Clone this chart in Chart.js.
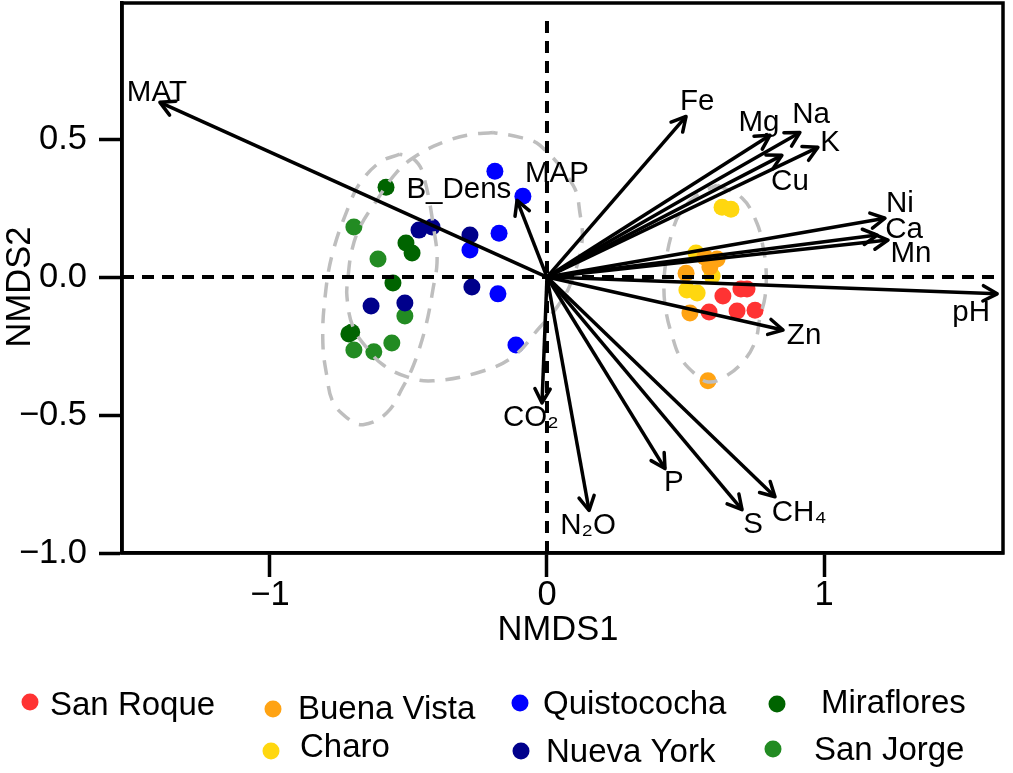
<!DOCTYPE html>
<html>
<head>
<meta charset="utf-8">
<title>NMDS</title>
<script src="https://cdn.jsdelivr.net/npm/chart.js@4/dist/chart.umd.min.js"></script>
<style>
  body { margin: 0; background: #fff; }
  canvas { display: block; }
</style>
</head>
<body>
<canvas id="chart" width="1013" height="773"></canvas>
<script>
const xTicks = [-1, 0, 1];
const yTicks = [-1, -0.5, 0, 0.5];

// sites
const sanRoqueX = [0.700, 0.722, 0.635, 0.585, 0.686, 0.751];
const sanRoqueY = [-0.043, -0.043, -0.069, -0.127, -0.123, -0.120];
const buenaVistaX = [0.502, 0.516, 0.581, 0.570, 0.614, 0.588];
const buenaVistaY = [0.014, -0.130, -0.376, 0.072, 0.065, 0.036];
const charoX = [0.632, 0.664, 0.538, 0.596, 0.505, 0.542];
const charoY = [0.253, 0.246, 0.087, 0.004, -0.047, -0.058];
const quistocochaX = [-0.188, -0.087, -0.173, -0.278, -0.177, -0.112];
const quistocochaY = [0.383, 0.293, 0.159, 0.098, -0.061, -0.246];
const nuevaYorkX = [-0.462, -0.415, -0.278, -0.271, -0.635, -0.513];
const nuevaYorkY = [0.170, 0.181, 0.152, -0.036, -0.105, -0.094];
const mirafloresX = [-0.581, -0.509, -0.487, -0.556, -0.715, -0.705];
const mirafloresY = [0.325, 0.123, 0.087, -0.022, -0.206, -0.200];
const sanJorgeX = [-0.697, -0.610, -0.513, -0.560, -0.697, -0.625];
const sanJorgeY = [0.181, 0.065, -0.141, -0.239, -0.264, -0.271];

// arrow tips, all start at 0,0
const arrowX = [-1.397, -0.108, -0.018, 0.152, 0.426, 0.704, 0.823, 0.852, 1.625, 1.220, 1.231, 1.192, 0.848, 0.978, 0.913, 0.805, 0.502];
const arrowY = [0.633, 0.278, -0.456, -0.846, -0.694, -0.843, -0.796, -0.192, -0.061, 0.213, 0.134, 0.152, 0.441, 0.470, 0.524, 0.514, 0.582];

const labelNames = ['MAT', 'MAP', 'B_Dens', 'Fe', 'Mg', 'Na', 'K', 'Cu', 'Ni', 'Ca', 'Mn', 'pH', 'Zn', 'CH₄', 'S', 'P', 'N₂O', 'CO₂'];
const labelX = [-1.408, 0.036, -0.318, 0.542, 0.765, 0.953, 1.022, 0.877, 1.274, 1.289, 1.314, 1.531, 0.928, 0.910, 0.744, 0.458, 0.148, -0.058];
const labelY = [0.669, 0.373, 0.315, 0.633, 0.557, 0.586, 0.488, 0.344, 0.264, 0.170, 0.083, -0.130, -0.213, -0.854, -0.897, -0.745, -0.901, -0.510];

// dashed hulls
const ellipseRightX = [0.614, 0.704, 0.758, 0.780, 0.791, 0.787, 0.769, 0.751, 0.704, 0.635, 0.581, 0.534, 0.480, 0.451, 0.430, 0.422, 0.430, 0.451, 0.480, 0.542, 0.614];
const ellipseRightY = [0.333, 0.286, 0.195, 0.108, 0.025, -0.072, -0.145, -0.235, -0.311, -0.365, -0.380, -0.351, -0.289, -0.210, -0.127, -0.036, 0.061, 0.159, 0.231, 0.297, 0.333];
const ellipseMiddleX = [-0.195, -0.289, -0.375, -0.469, -0.542, -0.621, -0.675, -0.704, -0.718, -0.722, -0.700, -0.650, -0.592, -0.505, -0.412, -0.242, -0.123, -0.025, 0.029, 0.083, 0.126, 0.119, 0.094, -0.025, -0.097, -0.195];
const ellipseMiddleY = [0.524, 0.514, 0.488, 0.441, 0.380, 0.268, 0.181, 0.098, 0, -0.072, -0.181, -0.257, -0.318, -0.362, -0.376, -0.344, -0.289, -0.181, -0.119, -0.029, 0.123, 0.231, 0.333, 0.477, 0.506, 0.524];
const ellipseLeftX = [-0.531, -0.603, -0.675, -0.711, -0.773, -0.801, -0.809, -0.794, -0.773, -0.722, -0.664, -0.578, -0.520, -0.484, -0.451, -0.430, -0.412, -0.397, -0.404, -0.448, -0.484, -0.531];
const ellipseLeftY = [0.445, 0.416, 0.340, 0.268, 0.090, -0.072, -0.239, -0.362, -0.452, -0.510, -0.535, -0.492, -0.398, -0.325, -0.228, -0.145, -0.047, 0.051, 0.145, 0.376, 0.430, 0.445];

const xMin = -1.534, xMax = 1.646, yMin = -1.0, yMax = 0.993;
const vLineTop = 0.94;

const sites = [
    { name: 'San Roque', xs: sanRoqueX, ys: sanRoqueY, color: '#FF3333', dot: [30, 702], text: [50, 706] },
    { name: 'Buena Vista', xs: buenaVistaX, ys: buenaVistaY, color: '#FFA313', dot: [273, 709], text: [298, 710] },
    { name: 'Charo', xs: charoX, ys: charoY, color: '#FFD70F', dot: [271, 751], text: [300, 748] },
    { name: 'Quistococha', xs: quistocochaX, ys: quistocochaY, color: '#0000FF', dot: [520, 703], text: [543, 705] },
    { name: 'Nueva York', xs: nuevaYorkX, ys: nuevaYorkY, color: '#00008B', dot: [521, 751], text: [546, 753] },
    { name: 'Miraflores', xs: mirafloresX, ys: mirafloresY, color: '#006400', dot: [777, 704], text: [821, 704] },
    { name: 'San Jorge', xs: sanJorgeX, ys: sanJorgeY, color: '#228B22', dot: [773, 749], text: [814, 751] }
];

function toPoints(xs, ys) {
    return xs.map((x, i) => ({ x: x, y: ys[i] }));
}

function lineSet(points, color, width, dash, order, tension) {
    return {
        data: points,
        showLine: true,
        borderColor: color,
        borderWidth: width,
        borderDash: dash,
        pointRadius: 0,
        tension: tension || 0,
        order: order
    };
}

let datasets = [];
sites.forEach(s => {
    datasets.push({
        label: s.name,
        data: toPoints(s.xs, s.ys),
        backgroundColor: s.color,
        borderWidth: 0,
        pointRadius: 8.5,
        order: 5
    });
});
datasets.push(lineSet(toPoints(ellipseRightX, ellipseRightY), '#BEBEBE', 3.5, [15, 11], 3, 0.4));
datasets.push(lineSet(toPoints(ellipseMiddleX, ellipseMiddleY), '#BEBEBE', 3.5, [15, 11], 3, 0.4));
datasets.push(lineSet(toPoints(ellipseLeftX, ellipseLeftY), '#BEBEBE', 3.5, [15, 11], 3, 0.4));
datasets.push(lineSet([{ x: xMin, y: 0 }, { x: xMax, y: 0 }], '#000', 4, [12, 8], 2));
datasets.push(lineSet([{ x: 0, y: yMin }, { x: 0, y: vLineTop }], '#000', 4, [12, 8], 2));
arrowX.forEach((x, i) => {
    datasets.push(lineSet([{ x: 0, y: 0 }, { x: x, y: arrowY[i] }], '#000', 3.5, [], 1));
});

// things the scatter chart has no option for: frame, arrow heads, labels, legend
const extras = {
    id: 'extras',
    afterDraw(chart) {
        const c = chart.ctx;
        const a = chart.chartArea;
        const sx = chart.scales.x;
        const sy = chart.scales.y;
        c.save();

        c.strokeStyle = '#000';
        c.lineWidth = 3.5;
        c.strokeRect(a.left, a.top, a.right - a.left, a.bottom - a.top);

        c.lineCap = 'round';
        c.lineJoin = 'round';
        arrowX.forEach((x, i) => {
            const px = sx.getPixelForValue(x);
            const py = sy.getPixelForValue(arrowY[i]);
            const ang = Math.atan2(py - sy.getPixelForValue(0), px - sx.getPixelForValue(0));
            c.beginPath();
            c.moveTo(px - 16 * Math.cos(ang - 0.5), py - 16 * Math.sin(ang - 0.5));
            c.lineTo(px, py);
            c.lineTo(px - 16 * Math.cos(ang + 0.5), py - 16 * Math.sin(ang + 0.5));
            c.stroke();
        });

        c.fillStyle = '#000';
        c.textAlign = 'center';
        c.textBaseline = 'middle';
        c.font = '29.5px "Liberation Sans"';
        labelNames.forEach((name, i) => {
            c.fillText(name, sx.getPixelForValue(labelX[i]), sy.getPixelForValue(labelY[i]));
        });

        c.font = '34.5px "Liberation Sans"';
        c.fillText('NMDS1', 558, 630);
        c.save();
        c.translate(20, 287);
        c.rotate(-Math.PI / 2);
        c.fillText('NMDS2', 0, 0);
        c.restore();

        c.font = '33px "Liberation Sans"';
        c.textAlign = 'left';
        sites.forEach(s => {
            c.fillStyle = s.color;
            c.beginPath();
            c.arc(s.dot[0], s.dot[1], 8.5, 0, Math.PI * 2);
            c.fill();
            c.fillStyle = '#000';
            c.fillText(s.name, s.text[0], s.text[1]);
        });
        c.restore();
    }
};

const tickFont = { family: '"Liberation Sans"', size: 34.5 };

function minusLabel(decimals) {
    return v => v.toFixed(decimals).replace('-', '\u2212');
}

// no extra room for half a tick label at the plot edges
function fixBox(axis, w, h) {
    if (w) axis.width = w;
    if (h) axis.height = h;
    axis.paddingTop = 0;
    axis.paddingBottom = 0;
    axis.paddingLeft = 0;
    axis.paddingRight = 0;
}

new Chart(document.getElementById('chart'), {
    type: 'scatter',
    data: { datasets: datasets },
    options: {
        responsive: false,
        animation: false,
        layout: { autoPadding: false, padding: { top: 3, right: 10, left: 0, bottom: 0 } },
        plugins: { legend: { display: false }, tooltip: { enabled: false } },
        scales: {
            x: {
                type: 'linear',
                min: xMin,
                max: xMax,
                afterBuildTicks: axis => { axis.ticks = xTicks.map(v => ({ value: v })); },
                afterFit: axis => fixBox(axis, 0, 220),
                grid: { drawOnChartArea: false, tickLength: 24, tickWidth: 3.5, tickColor: '#000' },
                border: { color: '#000', width: 3.5 },
                ticks: { color: '#000', font: tickFont, padding: -2, maxRotation: 0, callback: minusLabel(0) }
            },
            y: {
                type: 'linear',
                min: yMin,
                max: yMax,
                afterBuildTicks: axis => { axis.ticks = yTicks.map(v => ({ value: v })); },
                afterFit: axis => fixBox(axis, 122, 0),
                grid: { drawOnChartArea: false, tickLength: 23, tickWidth: 3.5, tickColor: '#000' },
                border: { color: '#000', width: 3.5 },
                ticks: { color: '#000', font: tickFont, padding: 12, callback: minusLabel(1) }
            }
        }
    },
    plugins: [extras]
});
</script>
</body>
</html>
